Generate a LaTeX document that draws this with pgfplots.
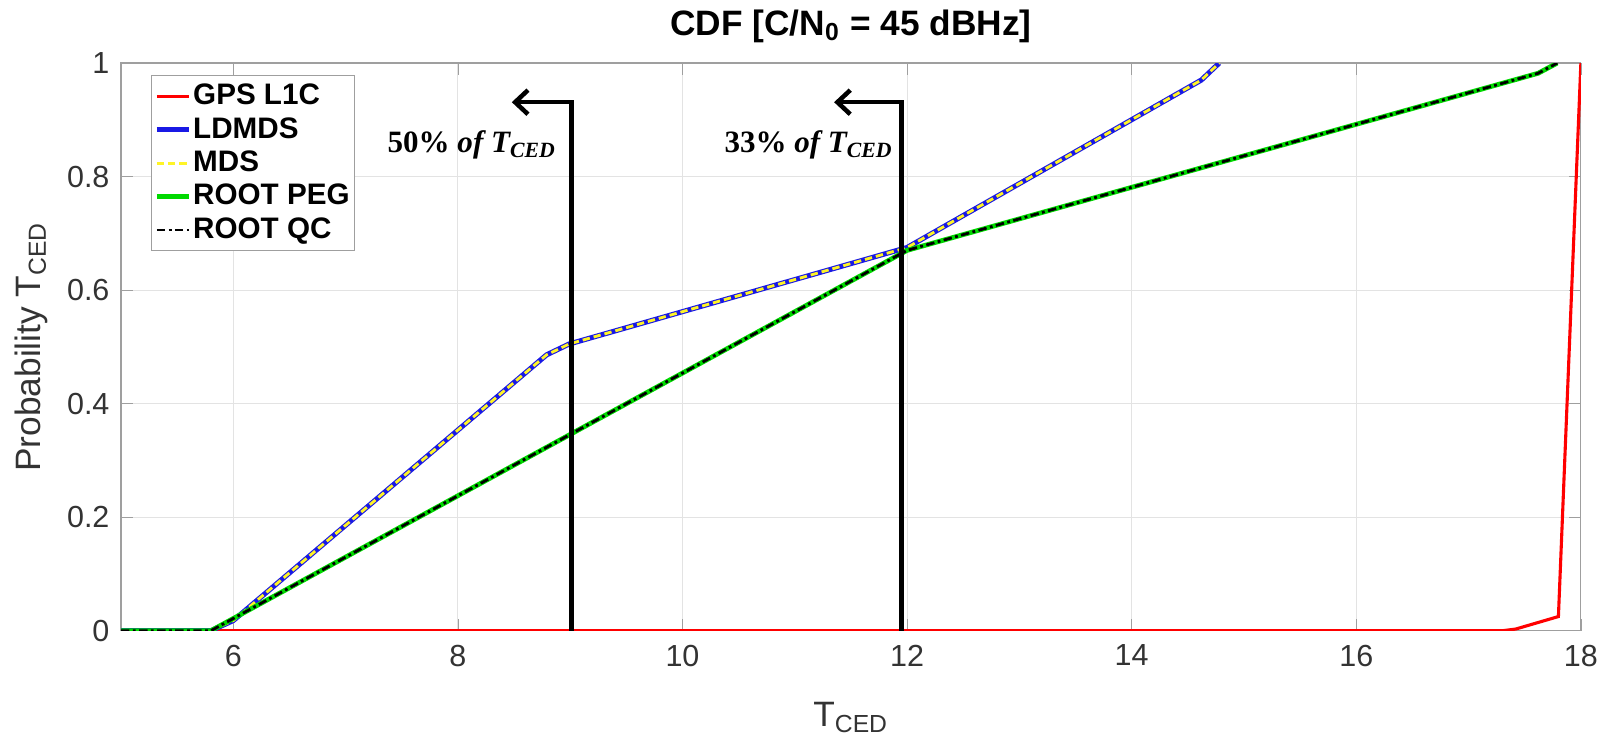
\documentclass[border=0pt]{standalone}
\usepackage{fontspec}
\setmainfont{Liberation Sans}
\newfontfamily\annfont{Liberation Serif}
\usepackage{pgfplots}
\pgfplotsset{compat=1.18}
\usetikzlibrary{arrows.meta}

% CDF of T_CED for each scheme
\pgfplotstableread{
x y
5.0 0
17.3 0
17.42 0.003
17.8 0.025
18.0 1.0
}\gpsl
\pgfplotstableread{
x y
5.0 0
5.8 0
6.0 0.018
8.79 0.486
8.99 0.505
12.0 0.675
14.62 0.970
14.78 1.0
}\mds
\pgfplotstableread{
x y
5.0 0
5.8 0
12.0 0.670
17.62 0.982
17.79 1.0
}\root

\begin{document}
\begin{tikzpicture}
\useasboundingbox (-1.507cm,-1.335cm) rectangle (18.493cm,7.855cm);
\begin{axis}[
  at={(0,0)}, anchor=south west,
  scale only axis,
  width=18.18cm, height=7.07cm,
  xmin=5, xmax=18, ymin=0, ymax=1,
  xtick={6,8,...,18},
  ytick={0,0.2,0.4,0.6,0.8,1},
  yticklabels={0,0.2,0.4,0.6,0.8,1},
  tick align=inside,
  major tick length=0.15cm,
  axis line style={draw=gray!75},
  tick style={draw=gray!75},
  grid=major,
  major grid style={draw=gray!22, line width=0.4pt},
  /pgf/number format/assume math mode=true,
  tick label style={font=\fontsize{10.8}{12}\selectfont, text=black!80},
  xticklabel style={yshift=-0.05cm},
  yticklabel style={xshift=-0.02cm},
  title={\textbf{CDF [C/N\textsubscript{0} = 45 dBHz]}},
  title style={font=\fontsize{12.5}{14}\selectfont, at={(axis description cs:0.5,1)}, anchor=center, yshift=0.25cm},
  xlabel={T\textsubscript{CED}},
  ylabel={Probability T\textsubscript{CED}},
  label style={font=\fontsize{12.5}{14}\selectfont, text=black!80},
  xlabel style={at={(axis description cs:0.5,0)}, anchor=center, yshift=-1.08cm},
  ylabel style={at={(axis description cs:0,0.5)}, anchor=center, yshift=1.12cm},
  legend style={at={(0.0205,0.979)}, anchor=north west, draw=gray!75,
    font=\bfseries\fontsize{10.5}{12}\selectfont, inner sep=1pt,
    row sep=-1pt, cells={anchor=west}, nodes={inner xsep=0.6pt}},
  legend cell align=left,
  legend image code/.code={\draw[#1] (0cm,0cm) -- (0.4cm,0cm);},
]
\addplot[red, line width=1.1pt] table {\gpsl};
\addlegendentry{GPS L1C}
\addplot[blue!80!gray, line width=1.8pt] table {\mds};
\addlegendentry{LDMDS}
\addplot[yellow!85!white, line width=1pt, dash pattern=on 2.6pt off 1.4pt] table {\mds};
\addlegendentry{MDS}
\addplot[green!85!black, line width=1.7pt] table {\root};
\addlegendentry{ROOT PEG}
\addplot[black, line width=1pt, dash pattern=on 3pt off 1.2pt on 1pt off 1.2pt] table {\root};
\addlegendentry{ROOT QC}

% arrows marking the fraction of T_CED
\draw[line width=1.6pt, -{Straight Barb[length=0.16cm, width=0.3cm]}]
  (axis cs:9.01,0) -- (axis cs:9.01,0.931) -- (axis cs:8.48,0.931);
\draw[line width=1.6pt, -{Straight Barb[length=0.16cm, width=0.3cm]}]
  (axis cs:11.95,0) -- (axis cs:11.95,0.931) -- (axis cs:11.35,0.931);
\node[anchor=east, inner sep=0pt, font=\annfont\fontsize{11}{13}\selectfont]
  at (axis cs:8.88,0.855) {\textbf{50\%} \textbf{\textit{of T\textsubscript{CED}}}};
\node[anchor=east, inner sep=0pt, font=\annfont\fontsize{11}{13}\selectfont]
  at (axis cs:11.88,0.855) {\textbf{33\%} \textbf{\textit{of T\textsubscript{CED}}}};
\end{axis}
\end{tikzpicture}
\end{document}
